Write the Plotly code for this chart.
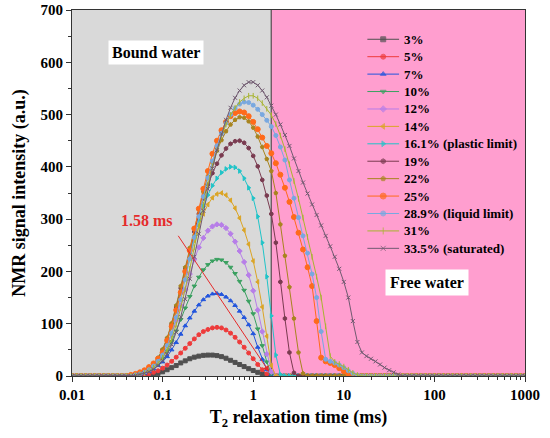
import math
import plotly.graph_objects as go

# T2 grid (ms), 20 points per decade from 0.01 to 1000
t2 = [0.01, 0.01122, 0.01259, 0.01413, 0.01585, 0.01778, 0.01995, 0.02239, 0.02512, 0.02818,
      0.03162, 0.03548, 0.03981, 0.04467, 0.05012, 0.05623, 0.0631, 0.07079, 0.07943, 0.08913,
      0.1, 0.1122, 0.1259, 0.1413, 0.1585, 0.1778, 0.1995, 0.2239, 0.2512, 0.2818,
      0.3162, 0.3548, 0.3981, 0.4467, 0.5012, 0.5623, 0.631, 0.7079, 0.7943, 0.8913,
      1.0, 1.122, 1.259, 1.413, 1.585, 1.778, 1.995, 2.239, 2.512, 2.818,
      3.162, 3.548, 3.981, 4.467, 5.012, 5.623, 6.31, 7.079, 7.943, 8.913,
      10.0, 11.22, 12.59, 14.13, 15.85, 17.78, 19.95, 22.39, 25.12, 28.18,
      31.62, 35.48, 39.81, 44.67, 50.12, 56.23, 63.1, 70.79, 79.43, 89.13,
      100.0, 112.2, 125.9, 141.3, 158.5, 177.8, 199.5, 223.9, 251.2, 281.8,
      316.2, 354.8, 398.1, 446.7, 501.2, 562.3, 631.0, 707.9, 794.3, 891.3, 1000.0]

labels = ["3%", "5%", "7%", "10%", "12%", "14%", "16.1% (plastic limit)", "19%", "22%",
          "25%", "28.9% (liquid limit)", "31%", "33.5% (saturated)"]

s03 = [0, 0, 0, 0, 0, 0, 0, 0, 0, 0, 0, 0, 0, 0, 0, 0, 0, 1, 3, 5,
       8, 12, 16, 20, 25, 29, 33, 36, 38, 39.5, 40, 40, 39, 37, 34, 30, 26, 22, 18, 14,
       10.5, 7, 4, 1.5, 0, 0, 0, 0, 0, 0, 0, 0, 0, 0, 0, 0, 0, 0, 0, 0,
       0, 0, 0, 0, 0, 0, 0, 0, 0, 0, 0, 0, 0, 0, 0, 0, 0, 0, 0, 0,
       0, 0, 0, 0, 0, 0, 0, 0, 0, 0, 0, 0, 0, 0, 0, 0, 0, 0, 0, 0, 0]
s05 = [0, 0, 0, 0, 0, 0, 0, 0, 0, 0, 0, 0, 0, 0, 0, 1, 2, 4, 7, 10,
       15, 21, 28, 36, 44, 53, 62, 71, 79, 85, 89, 92, 93, 92, 88, 82, 74, 65, 55, 44,
       33, 22, 12, 4, 0, 0, 0, 0, 0, 0, 0, 0, 0, 0, 0, 0, 0, 0, 0, 0,
       0, 0, 0, 0, 0, 0, 0, 0, 0, 0, 0, 0, 0, 0, 0, 0, 0, 0, 0, 0,
       0, 0, 0, 0, 0, 0, 0, 0, 0, 0, 0, 0, 0, 0, 0, 0, 0, 0, 0, 0, 0]
s07 = [0, 0, 0, 0, 0, 0, 0, 0, 0, 0, 0, 0, 0, 0, 1, 3, 5, 9, 14, 20,
       27, 37, 50, 64, 80, 96, 111, 124, 136, 146, 153, 157, 158, 156, 151, 144, 135, 124, 112, 98,
       81, 55, 32, 12, 2, 0, 0, 0, 0, 0, 0, 0, 0, 0, 0, 0, 0, 0, 0, 0,
       0, 0, 0, 0, 0, 0, 0, 0, 0, 0, 0, 0, 0, 0, 0, 0, 0, 0, 0, 0,
       0, 0, 0, 0, 0, 0, 0, 0, 0, 0, 0, 0, 0, 0, 0, 0, 0, 0, 0, 0, 0]
s10 = [0, 0, 0, 0, 0, 0, 0, 0, 0, 0, 0, 0, 0, 0, 1, 3, 6, 10, 16, 24,
       34, 48, 66, 86, 108, 130, 152, 172, 189, 203, 213, 220, 223, 222, 217, 208, 196, 181, 164, 143,
       119, 90, 58, 27, 4, 0, 0, 0, 0, 0, 0, 0, 0, 0, 0, 0, 0, 0, 0, 0,
       0, 0, 0, 0, 0, 0, 0, 0, 0, 0, 0, 0, 0, 0, 0, 0, 0, 0, 0, 0,
       0, 0, 0, 0, 0, 0, 0, 0, 0, 0, 0, 0, 0, 0, 0, 0, 0, 0, 0, 0, 0]
s12 = [0, 0, 0, 0, 0, 0, 0, 0, 0, 0, 0, 0, 0, 0, 1, 3, 6, 11, 18, 28,
       41, 58, 80, 106, 135, 165, 195, 223, 246, 264, 278, 286, 290, 289, 283, 272, 257, 239, 218, 193,
       163, 126, 85, 42, 8, 0, 0, 0, 0, 0, 0, 0, 0, 0, 0, 0, 0, 0, 0, 0,
       0, 0, 0, 0, 0, 0, 0, 0, 0, 0, 0, 0, 0, 0, 0, 0, 0, 0, 0, 0,
       0, 0, 0, 0, 0, 0, 0, 0, 0, 0, 0, 0, 0, 0, 0, 0, 0, 0, 0, 0, 0]
s14 = [0, 0, 0, 0, 0, 0, 0, 0, 0, 0, 0, 0, 0, 0, 1, 4, 7, 12, 20, 31,
       46, 66, 92, 123, 157, 192, 227, 259, 287, 310, 328, 341, 348, 350, 346, 336, 321, 302, 279, 252,
       220, 180, 132, 76, 20, 0, 0, 0, 0, 0, 0, 0, 0, 0, 0, 0, 0, 0, 0, 0,
       0, 0, 0, 0, 0, 0, 0, 0, 0, 0, 0, 0, 0, 0, 0, 0, 0, 0, 0, 0,
       0, 0, 0, 0, 0, 0, 0, 0, 0, 0, 0, 0, 0, 0, 0, 0, 0, 0, 0, 0, 0]
s161 = [0, 0, 0, 0, 0, 0, 0, 0, 0, 0, 0, 0, 0, 0, 2, 4, 8, 13, 21, 32,
        47, 68, 95, 127, 162, 199, 235, 268, 298, 324, 346, 364, 378, 389, 396, 400, 399, 392, 378, 360,
        340, 305, 255, 190, 115, 40, 3, 0, 0, 0, 0, 0, 0, 0, 0, 0, 0, 0, 0, 0,
        0, 0, 0, 0, 0, 0, 0, 0, 0, 0, 0, 0, 0, 0, 0, 0, 0, 0, 0, 0,
        0, 0, 0, 0, 0, 0, 0, 0, 0, 0, 0, 0, 0, 0, 0, 0, 0, 0, 0, 0, 0]
s19 = [0, 0, 0, 0, 0, 0, 0, 0, 0, 0, 0, 0, 0, 0, 2, 5, 9, 14, 22, 34,
       50, 71, 99, 132, 168, 206, 240, 276, 310, 340, 366, 388, 406, 422, 435, 444, 449, 450, 446, 436,
       421, 401, 375, 345, 310, 255, 180, 110, 45, 6, 0, 0, 0, 0, 0, 0, 0, 0, 0, 0,
       0, 0, 0, 0, 0, 0, 0, 0, 0, 0, 0, 0, 0, 0, 0, 0, 0, 0, 0, 0,
       0, 0, 0, 0, 0, 0, 0, 0, 0, 0, 0, 0, 0, 0, 0, 0, 0, 0, 0, 0, 0]
s22 = [0, 0, 0, 0, 0, 0, 0, 0, 0, 0, 0, 0, 0, 0, 2, 5, 9, 15, 23, 35,
       51, 73, 101, 135, 172, 208, 245, 282, 318, 352, 382, 408, 431, 451, 468, 481, 490, 495, 494, 487,
       475, 458, 438, 415, 392, 350, 290, 230, 170, 110, 45, 5, 0, 0, 0, 0, 0, 0, 0, 0,
       0, 0, 0, 0, 0, 0, 0, 0, 0, 0, 0, 0, 0, 0, 0, 0, 0, 0, 0, 0,
       0, 0, 0, 0, 0, 0, 0, 0, 0, 0, 0, 0, 0, 0, 0, 0, 0, 0, 0, 0, 0]
s25 = [0, 0, 0, 0, 0, 0, 0, 0, 0, 0, 0, 0, 0, 2, 4, 7, 11, 17, 24, 33,
       45, 68, 95, 126, 160, 200, 240, 282, 320, 358, 392, 425, 450, 470, 486, 497, 503, 506, 504, 497,
       486, 472, 456, 440, 426, 407, 385, 360, 333, 304, 274, 242, 208, 172, 105, 35, 28, 25, 21, 15,
       9, 4, 1, 0, 0, 0, 0, 0, 0, 0, 0, 0, 0, 0, 0, 0, 0, 0, 0, 0,
       0, 0, 0, 0, 0, 0, 0, 0, 0, 0, 0, 0, 0, 0, 0, 0, 0, 0, 0, 0, 0]
s289 = [0, 0, 0, 0, 0, 0, 0, 0, 0, 0, 0, 0, 0, 0, 2, 4, 7, 12, 19, 28,
        40, 58, 82, 112, 146, 184, 224, 265, 305, 343, 379, 411, 440, 464, 484, 500, 512, 520, 524, 523,
        518, 510, 500, 489, 477, 460, 438, 413, 375, 340, 303, 268, 235, 195, 150, 85, 32, 28, 25, 21,
        16, 10, 5, 1, 0, 0, 0, 0, 0, 0, 0, 0, 0, 0, 0, 0, 0, 0, 0, 0,
        0, 0, 0, 0, 0, 0, 0, 0, 0, 0, 0, 0, 0, 0, 0, 0, 0, 0, 0, 0, 0]
s31 = [0, 0, 0, 0, 0, 0, 0, 0, 0, 0, 0, 0, 0, 0, 1, 3, 6, 10, 16, 24,
       35, 50, 71, 98, 130, 166, 205, 246, 288, 328, 366, 401, 432, 459, 481, 499, 513, 524, 531, 536,
       536, 531, 522, 511, 499, 482, 460, 434, 405, 373, 339, 303, 266, 228, 190, 150, 95, 38, 27, 23,
       18, 12, 6, 2, 0, 0, 0, 0, 0, 0, 0, 0, 0, 0, 0, 0, 0, 0, 0, 0,
       0, 0, 0, 0, 0, 0, 0, 0, 0, 0, 0, 0, 0, 0, 0, 0, 0, 0, 0, 0, 0]
s335 = [0, 0, 0, 0, 0, 0, 0, 0, 0, 0, 0, 0, 0, 0, 1, 3, 5, 8, 13, 20,
        29, 42, 60, 84, 113, 147, 186, 228, 272, 316, 358, 397, 432, 463, 490, 513, 532, 546, 556, 562,
        562, 556, 546, 533, 517, 500, 481, 461, 440, 416, 392, 370, 349, 328, 308, 288, 268, 248, 228, 205,
        180, 150, 105, 65, 45, 38, 33, 28, 22, 16, 11, 7, 3, 0, 0, 0, 0, 0, 0, 0,
        0, 0, 0, 0, 0, 0, 0, 0, 0, 0, 0, 0, 0, 0, 0, 0, 0, 0, 0, 0, 0]

series = [s03, s05, s07, s10, s12, s14, s161, s19, s22, s25, s289, s31, s335]
colors = ["#505050", "#ee3b3b", "#2255dd", "#3aa060", "#b77ee8", "#dba526", "#20c4c8",
          "#7a3b50", "#a8841e", "#ff6a1a", "#78a8e0", "#a8b430", "#705a70"]
symbols = ["square", "circle", "triangle-up", "triangle-down", "diamond", "triangle-left",
           "triangle-right", "hexagon", "pentagon", "circle", "circle", "line-ns", "x-thin"]
msizes = [4, 4, 4, 4, 4, 4, 4, 4, 4, 5, 4, 4, 4]

boundary = 1.58
x_ticks = [0.01, 0.1, 1, 10, 100, 1000]
x_ticktext = ["0.01", "0.1", "1", "10", "100", "1000"]

FONT = "Liberation Serif"

# legend layout (paper fractions of plot area)
LEG_LINE_X0, LEG_LINE_X1, LEG_TEXT_X = 0.652, 0.722, 0.729
LEG_TOP, LEG_STEP = 0.92, 0.0476

fig = go.Figure()
for name, ys, c, sym, ms in zip(labels, series, colors, symbols, msizes):
    assert len(ys) == len(t2)
    fig.add_trace(go.Scatter(
        x=t2, y=ys, mode="lines+markers", name=name, showlegend=False,
        line=dict(color=c, width=1),
        marker=dict(color=c, symbol=sym, size=ms, line=dict(color=c, width=1)),
    ))

# custom compact legend on an overlay axis spanning the plot area
for i, (name, c, sym, ms) in enumerate(zip(labels, colors, symbols, msizes)):
    yy = LEG_TOP - i * LEG_STEP
    xm = (LEG_LINE_X0 + LEG_LINE_X1) / 2
    fig.add_trace(go.Scatter(
        x=[LEG_LINE_X0, xm, LEG_LINE_X1], y=[yy, yy, yy], xaxis="x2", yaxis="y2",
        mode="lines+markers", showlegend=False, hoverinfo="skip",
        line=dict(color=c, width=1),
        marker=dict(color=c, symbol=sym, size=[0, ms + 1, 0], line=dict(color=c, width=1)),
    ))
    fig.add_annotation(x=LEG_TEXT_X, y=yy, xref="paper", yref="paper", text="<b>%s</b>" % name,
                       showarrow=False, xanchor="left", yanchor="middle",
                       font=dict(family=FONT, size=13, color="black"))

fig.add_shape(type="rect", xref="x", yref="y", x0=0.01, x1=boundary, y0=0, y1=700,
              fillcolor="#d9d9d9", line=dict(width=0), layer="below")
fig.add_shape(type="rect", xref="x", yref="y", x0=boundary, x1=1000, y0=0, y1=700,
              fillcolor="#ff9ecf", line=dict(width=0), layer="below")
fig.add_shape(type="line", xref="x", yref="y", x0=boundary, x1=boundary, y0=0, y1=700,
              line=dict(color="#333333", width=1), layer="below")

fig.add_annotation(x=math.log10(0.0836), y=619, xref="x", yref="y", text="<b>Bound water</b>",
                   showarrow=False, bgcolor="white", borderpad=3,
                   font=dict(family=FONT, size=16, color="black"))
fig.add_annotation(x=math.log10(82.8), y=179, xref="x", yref="y", text="<b>Free water</b>",
                   showarrow=False, bgcolor="white", borderpad=4,
                   font=dict(family=FONT, size=16, color="black"))
fig.add_annotation(x=math.log10(0.0673), y=298, xref="x", yref="y", text="<b>1.58 ms</b>",
                   showarrow=False, font=dict(family=FONT, size=16, color="#e52b2b"))
fig.add_annotation(x=math.log10(1.5), y=8, xref="x", yref="y", ax=math.log10(0.145), ay=271,
                   axref="x", ayref="y", text="", showarrow=True, arrowhead=2, arrowsize=1.2,
                   arrowwidth=1, arrowcolor="#e52b2b")

fig.update_layout(
    width=550, height=438,
    margin=dict(l=72, r=25, t=10, b=62, autoexpand=False),
    paper_bgcolor="white", plot_bgcolor="white",
    font=dict(family=FONT, size=15, color="black", weight="bold"),
    showlegend=False,
    xaxis=dict(type="log", range=[-2, 3], tickvals=x_ticks, ticktext=x_ticktext,
               automargin=False,
               ticks="outside", ticklen=5, tickwidth=1, tickcolor="#333333",
               showline=True, linecolor="#333333", linewidth=1, mirror=True,
               showgrid=False, zeroline=False,
               minor=dict(ticks="outside", ticklen=3, tickcolor="#333333", dtick="D1"),
               tickfont=dict(family=FONT, size=15, weight="bold"),
               title=dict(text="<b>T<sub>2</sub> relaxation time (ms)</b>", standoff=8,
                          font=dict(family=FONT, size=18))),
    yaxis=dict(range=[0, 700], dtick=100, automargin=False,
               ticks="outside", ticklen=5, tickwidth=1,
               tickcolor="#333333", showline=True, linecolor="#333333", linewidth=1, mirror=True,
               showgrid=False, zeroline=False,
               minor=dict(ticks="outside", ticklen=3, tickcolor="#333333", dtick=50),
               tickfont=dict(family=FONT, size=15, weight="bold"),
               title=dict(text="<b>NMR signal intensity (a.u.)</b>", standoff=10,
                          font=dict(family=FONT, size=18))),
    xaxis2=dict(overlaying="x", range=[0, 1], visible=False, fixedrange=True),
    yaxis2=dict(overlaying="y", range=[0, 1], visible=False, fixedrange=True),
)

fig.write_html("out.html")
